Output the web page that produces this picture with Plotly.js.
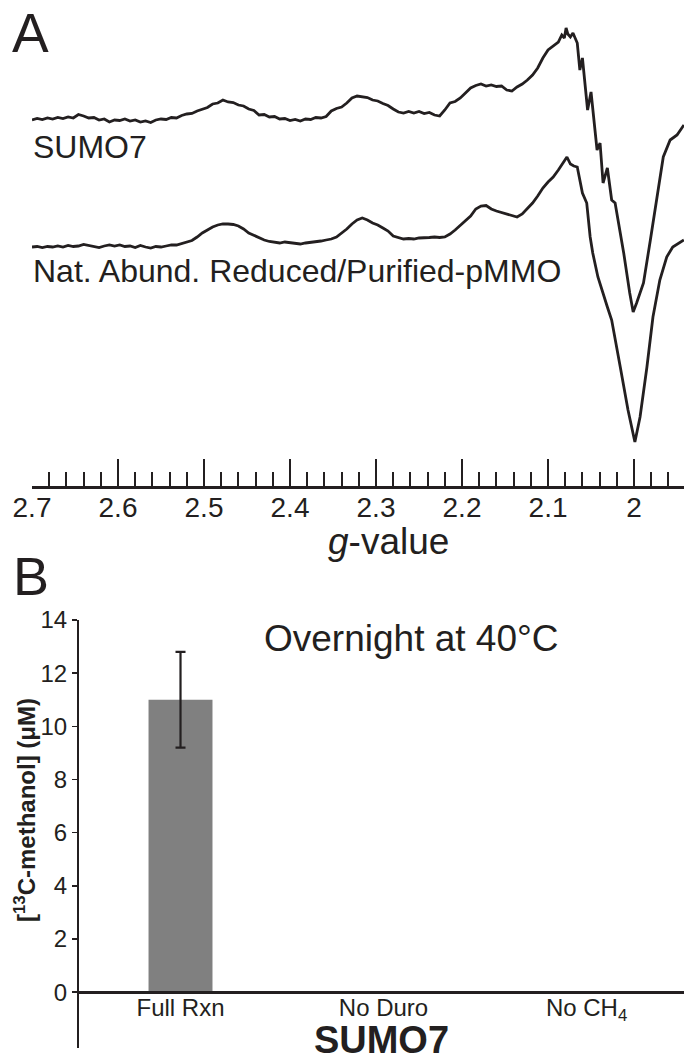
<!DOCTYPE html>
<html>
<head>
<meta charset="utf-8">
<script src="https://cdn.plot.ly/plotly-3.0.1.min.js"></script>
<style>html,body{margin:0;padding:0;background:#fff;}#chart{width:684px;height:1061px;}</style>
</head>
<body>
<div id="chart"></div>
<script>
// ---------------- Panel A data: EPR spectra (g-value vs. intensity, a.u.) ----------------
const sumo7G = [2.700,2.694,2.688,2.682,2.676,2.670,2.664,2.658,2.652,2.646,2.640,2.634,2.628,2.622,2.616,2.610,2.604,2.598,2.592,2.586,2.580,2.574,2.568,2.562,2.556,2.550,2.544,2.538,2.532,2.526,2.520,2.514,2.508,2.502,2.496,2.490,2.484,2.478,2.472,2.466,2.460,2.454,2.448,2.442,2.436,2.430,2.424,2.418,2.412,2.406,2.400,2.394,2.388,2.382,2.376,2.370,2.364,2.358,2.352,2.346,2.340,2.334,2.328,2.322,2.316,2.310,2.304,2.298,2.292,2.286,2.280,2.274,2.268,2.262,2.256,2.250,2.244,2.238,2.232,2.226,2.220,2.214,2.208,2.202,2.196,2.190,2.184,2.178,2.172,2.166,2.160,2.154,2.148,2.142,2.136,2.130,2.124,2.118,2.112,2.106,2.100,2.094,2.088,2.084,2.081,2.079,2.077,2.074,2.071,2.066,2.063,2.060,2.054,2.050,2.043,2.0395,2.036,2.031,2.026,2.022,2.012,2.005,2.001,1.997,1.989,1.981,1.974,1.966,1.958,1.950,1.942];
const sumo7I = [0,1.5,0.5,2,1,2.5,1.5,3,2,5.5,4,2,2.5,0,1,-2,0,-0.5,1,-1,0,-2,-1,-2.5,0,1,0.5,2.5,2,4.5,6,6.5,9,11,12.5,16,17,20,18,17.5,15,14,11,9.5,5,5.5,3,3.5,1,1.5,-0.5,0.5,-1,1,0.5,2.5,2,3.5,9,11.5,13,17,22,24,23,22.5,20,19,16.5,14.5,11,8,7,8.5,7,8.5,6.5,7.5,5,4,10,17,18.5,22,27,32,34.5,36,34,35,33.5,34,30,29,33,36,40,45,52,62,70,74,78,85,82,92,86,83,87,77,50,62,10,28,-30,-23,-63,-48,-80,-83,-133,-173,-192,-183,-163,-120,-80,-37,-20,-15,-5];

const natG = [2.700,2.694,2.688,2.682,2.676,2.670,2.664,2.658,2.652,2.646,2.640,2.634,2.628,2.622,2.616,2.610,2.604,2.598,2.592,2.586,2.580,2.574,2.568,2.562,2.556,2.550,2.544,2.538,2.532,2.526,2.520,2.514,2.508,2.502,2.496,2.490,2.484,2.478,2.472,2.466,2.460,2.454,2.448,2.442,2.436,2.430,2.424,2.418,2.412,2.406,2.400,2.394,2.388,2.382,2.376,2.370,2.364,2.358,2.352,2.346,2.340,2.334,2.328,2.322,2.316,2.310,2.304,2.298,2.292,2.286,2.280,2.274,2.268,2.262,2.256,2.250,2.244,2.238,2.232,2.226,2.220,2.214,2.208,2.202,2.196,2.190,2.184,2.178,2.172,2.166,2.160,2.154,2.148,2.142,2.136,2.130,2.124,2.118,2.112,2.106,2.100,2.094,2.088,2.084,2.080,2.078,2.074,2.070,2.066,2.060,2.055,2.051,2.048,2.042,2.031,2.026,2.016,2.007,1.999,1.993,1.985,1.978,1.970,1.962,1.955,1.942];
const natI = [-1,-0.5,-1.5,-0.5,-1,0,-1,0.5,-0.5,0,1.5,0.5,-0.5,-1.5,0,1,0,1,-0.5,0,-1.5,0.5,-1,-2,-0.5,-1,0,1,1,2.5,4,5.5,9,13,16,19,21,22,22,21.5,20,17,13,10.5,8,6,4.5,4,3,4,3.5,2.5,2,3,3.5,4,5,6,7,9,13,17,22,26,28,26,23,21,18,15,10,8.5,7,7.5,7,8,8,8.5,9,8.5,9,12,16,21,25,30,37,40,40.5,37,35,33.5,32,31,29,32,37,43,50,58,64,69,76,81,86,89,82,80,79,53,43,9,-7,-31,-61,-74,-121,-164,-196,-171,-121,-71,-34,-11,-1,6];

const spectraNames = ["SUMO7", "Nat. Abund. Reduced/Purified-pMMO"];
const gTickVals = [2.7,2.6,2.5,2.4,2.3,2.2,2.1,2.0];
const gTickText = ["2.7","2.6","2.5","2.4","2.3","2.2","2.1","2"];

// ---------------- Panel B data: 13C-methanol production ----------------
const conditions = ["Full Rxn", "No Duro", "No CH<sub>4</sub>"];
const methanolUM = [11.0, 0, 0];
const methanolErr = [1.8, 0, 0];
const yTickVals = [0,2,4,6,8,10,12,14];

// ---------------- styling / layout helpers ----------------
const W = 684, H = 1061;
const px = x => x / W;
const py = y => 1 - y / H;
const INK = '#231f20';
const FONT = 'Liberation Sans, Arial, Helvetica, sans-serif';
const stackOffset = 126; // vertical offset of the upper spectrum

const traces = [
  {x: sumo7G, y: sumo7I.map(v => v + stackOffset), type: 'scatter', mode: 'lines',
   name: spectraNames[0], line: {color: INK, width: 2.8}, xaxis: 'x', yaxis: 'y', hoverinfo: 'skip'},
  {x: natG, y: natI, type: 'scatter', mode: 'lines',
   name: spectraNames[1], line: {color: INK, width: 2.8}, xaxis: 'x', yaxis: 'y', hoverinfo: 'skip'},
  {x: conditions, y: methanolUM, type: 'bar', xaxis: 'x2', yaxis: 'y2', width: 0.315,
   marker: {color: '#808080', line: {width: 0}},
   error_y: {type: 'data', array: methanolErr, visible: true, color: INK, thickness: 2.2, width: 5},
   hoverinfo: 'skip'}
];

const layout = {
  width: W, height: H,
  margin: {l: 0, r: 0, t: 0, b: 0},
  showlegend: false,
  paper_bgcolor: '#ffffff', plot_bgcolor: 'rgba(0,0,0,0)',
  font: {family: FONT, color: INK},
  xaxis: {
    domain: [px(32), 1], range: [2.7, 1.9419], anchor: 'y',
    showline: true, linewidth: 2.5, linecolor: INK,
    ticks: 'inside', ticklen: 27, tickwidth: 2, tickcolor: INK,
    tickmode: 'array', tickvals: gTickVals, ticktext: gTickText,
    tickfont: {size: 28, color: INK, family: FONT},
    ticklabelstandoff: -5,
    minor: {ticks: 'inside', ticklen: 14, tickwidth: 2, tickcolor: INK, tick0: 2.0, dtick: 0.02, showgrid: false},
    showgrid: false, zeroline: false
  },
  yaxis: {domain: [py(486), 1], range: [-240, 246], visible: false, showgrid: false, zeroline: false},
  xaxis2: {
    domain: [px(79), 1], range: [-0.5, 2.48], anchor: 'free', position: py(992),
    type: 'category', showline: true, linewidth: 2.5, linecolor: INK,
    ticks: '', tickfont: {size: 24, color: INK, family: FONT},
    ticklabelstandoff: -6,
    showgrid: false, zeroline: false,
    title: {text: '<b>SUMO7</b>', font: {size: 38, color: INK, family: FONT}, standoff: 2}
  },
  yaxis2: {
    domain: [py(1048), py(620)], range: [-2.1, 14], anchor: 'x2',
    showline: true, linewidth: 2, linecolor: INK,
    ticks: 'outside', ticklen: 5, tickwidth: 1.5, tickcolor: INK,
    tickmode: 'array', tickvals: yTickVals,
    tickfont: {size: 24, color: INK, family: FONT},
    showgrid: false, zeroline: false
  },
  annotations: [
    {text: 'A', x: px(10), y: py(33), xref: 'paper', yref: 'paper', xanchor: 'left', yanchor: 'middle', showarrow: false, font: {size: 55, color: INK}},
    {text: 'B', x: px(11), y: py(576), xref: 'paper', yref: 'paper', xanchor: 'left', yanchor: 'middle', showarrow: false, font: {size: 54, color: INK}},
    {text: spectraNames[0], x: px(31), y: py(147), xref: 'paper', yref: 'paper', xanchor: 'left', yanchor: 'middle', showarrow: false, font: {size: 32, color: INK}},
    {text: spectraNames[1], x: px(31), y: py(271), xref: 'paper', yref: 'paper', xanchor: 'left', yanchor: 'middle', showarrow: false, font: {size: 32, color: INK}},
    {text: '<i>g</i>-value', x: px(388), y: py(541), xref: 'paper', yref: 'paper', xanchor: 'center', yanchor: 'middle', showarrow: false, font: {size: 37, color: INK}},
    {text: 'Overnight at 40°C', x: px(411), y: py(638), xref: 'paper', yref: 'paper', xanchor: 'center', yanchor: 'middle', showarrow: false, font: {size: 37, color: INK}},
    {text: '<b>[<sup>13</sup>C-methanol] (μM)</b>', x: px(25), y: py(810), xref: 'paper', yref: 'paper', xanchor: 'center', yanchor: 'middle', textangle: -90, showarrow: false, font: {size: 24, color: INK}}
  ]
};

Plotly.newPlot('chart', traces, layout, {staticPlot: true, displayModeBar: false});
</script>
</body>
</html>
